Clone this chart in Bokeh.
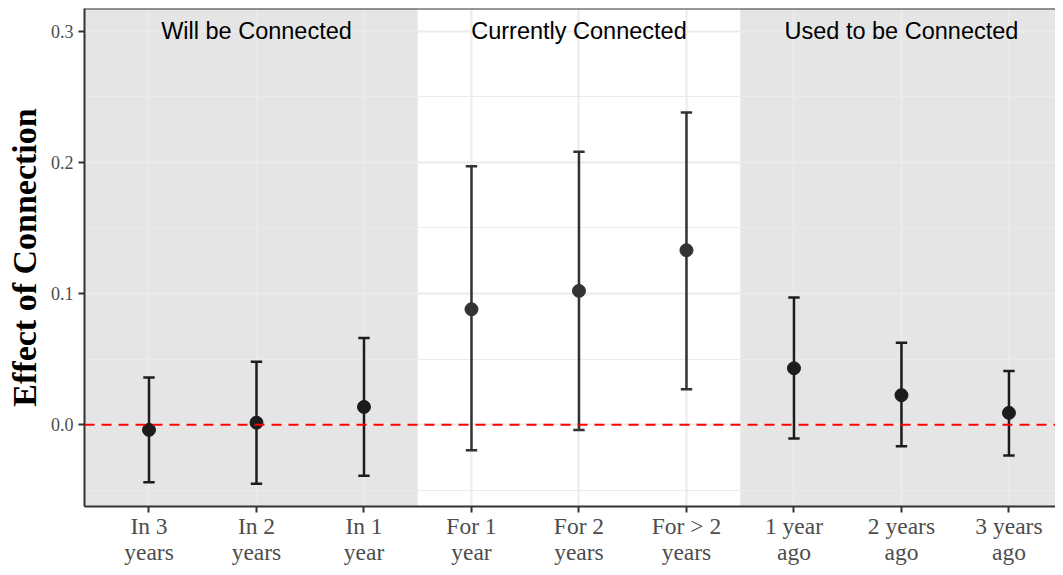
from bokeh.plotting import figure
from bokeh.models import FixedTicker, Span, Range1d, ColumnDataSource, NumeralTickFormatter
from bokeh.core.properties import value
from bokeh.embed import file_html
from bokeh.resources import INLINE

# ---- data ----
labels = ["In 3\nyears", "In 2\nyears", "In 1\nyear",
          "For 1\nyear", "For 2\nyears", "For > 2\nyears",
          "1 year\nago", "2 years\nago", "3 years\nago"]
estimate = [-0.004, 0.0015, 0.0135, 0.088, 0.102, 0.133, 0.043, 0.0225, 0.009]
lower = [-0.044, -0.045, -0.039, -0.0195, -0.004, 0.027, -0.0105, -0.0165, -0.0235]
upper = [0.036, 0.048, 0.066, 0.197, 0.208, 0.238, 0.097, 0.0625, 0.041]
groups = ["Will be Connected", "Currently Connected", "Used to be Connected"]
shaded = [True, False, True]
y_ticks = [0.0, 0.1, 0.2, 0.3]
y_minor = [-0.05, 0.05, 0.15, 0.25]

n = len(labels)
xs = list(range(1, n + 1))
per_group = n // len(groups)
y_lo, y_hi = -0.0624, 0.3173

p = figure(width=1055, height=567, output_backend="svg", toolbar_location=None,
           x_range=Range1d(0.4, 9.433), y_range=Range1d(y_lo, y_hi),
           min_border_left=84, min_border_right=0, min_border_top=8, min_border_bottom=55)
p.background_fill_color = "white"
p.border_fill_color = "white"
p.outline_line_color = None

# shaded group backgrounds
for gi, (g, sh) in enumerate(zip(groups, shaded)):
    left = gi * per_group + 0.5
    right = left + per_group
    if gi == 0:
        left = -5
    if gi == len(groups) - 1:
        right = 50
    if sh:
        p.quad(left=[left], right=[right], bottom=[-5], top=[5],
               fill_color="black", fill_alpha=0.1, line_color=None, level="underlay")

# grid
p.xgrid.ticker = FixedTicker(ticks=xs)
p.ygrid.ticker = FixedTicker(ticks=y_ticks, minor_ticks=y_minor)
for gr in (p.xgrid, p.ygrid):
    gr.grid_line_color = "#ebebeb"
    gr.grid_line_width = 2
    gr.level = "underlay"
p.ygrid.minor_grid_line_color = "#ebebeb"
p.ygrid.minor_grid_line_width = 1

# zero line
p.add_layout(Span(location=0, dimension="width", line_color="red",
                  line_width=2, line_dash="10 7"))

# error bars
colors = ["#1c1c1c" if shaded[i // per_group] else "#333333" for i in range(n)]
src = ColumnDataSource(dict(x=xs, est=estimate, lo=lower, hi=upper, c=colors,
                            xl=[x - 0.053 for x in xs], xr=[x + 0.053 for x in xs]))
p.segment(x0="x", x1="x", y0="lo", y1="hi", line_color="c", line_width=2.5, source=src)
p.segment(x0="xl", x1="xr", y0="lo", y1="lo", line_color="c", line_width=2.5, source=src)
p.segment(x0="xl", x1="xr", y0="hi", y1="hi", line_color="c", line_width=2.5, source=src)
p.scatter(x="x", y="est", size=13, fill_color="c", line_color="c", source=src)

# group titles
p.text(x=[gi * per_group + (per_group + 1) / 2 for gi in range(len(groups))],
       y=[y_ticks[-1]] * len(groups), text=groups,
       text_font=value("Liberation Sans"), text_font_size="23.5px",
       text_color="black", text_align="center", text_baseline="middle")

# top border
p.add_layout(Span(location=y_hi, dimension="width", line_color="#333333", line_width=2))

# axes
p.xaxis.ticker = FixedTicker(ticks=xs)
p.xaxis.major_label_overrides = {x: l for x, l in zip(xs, labels)}
p.yaxis.ticker = FixedTicker(ticks=y_ticks, minor_ticks=y_minor)
p.yaxis.formatter = NumeralTickFormatter(format="0.0")
for ax in (p.xaxis, p.yaxis):
    ax.axis_line_color = "#333333"
    ax.axis_line_width = 2
    ax.major_tick_line_color = "#333333"
    ax.major_tick_line_width = 2
    ax.major_tick_out = 6
    ax.major_tick_in = 0
    ax.minor_tick_line_color = None
    ax.major_label_text_font = "Liberation Serif"
    ax.major_label_text_color = "#4d4d4d"
p.xaxis.major_label_text_font_size = "23.5px"
p.xaxis.major_label_text_line_height = 1.0
p.xaxis.major_label_standoff = 0
p.yaxis.major_label_text_font_size = "18px"
p.yaxis.major_label_standoff = 5
p.yaxis.axis_label = "Effect of Connection"
p.yaxis.axis_label_text_font = "Liberation Serif"
p.yaxis.axis_label_text_font_style = "bold"
p.yaxis.axis_label_text_font_size = "34px"
p.yaxis.axis_label_text_color = "black"
p.yaxis.axis_label_standoff = 5

open("out.html", "w").write(file_html(p, INLINE))
